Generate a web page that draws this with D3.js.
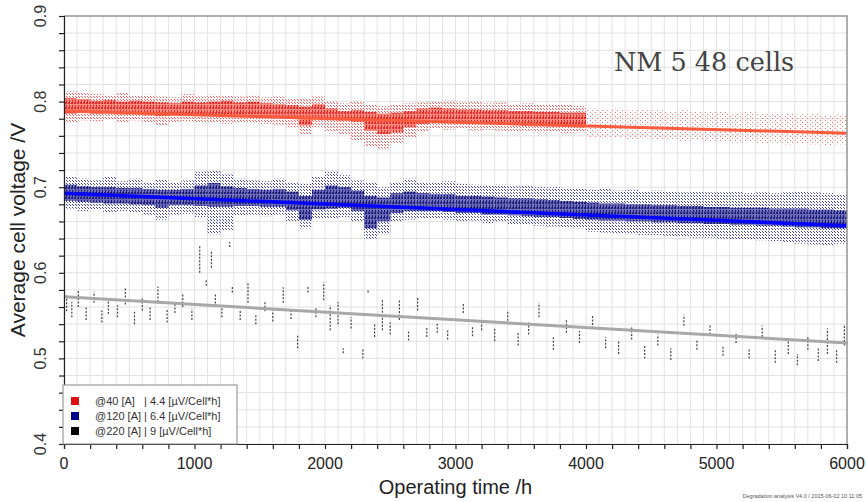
<!DOCTYPE html>
<html>
<head>
<meta charset="utf-8">
<script src="https://cdn.jsdelivr.net/npm/d3@7.9.0/dist/d3.min.js"></script>
<style>
  body { margin: 0; background: #fff; }
  svg { display: block; font-family: "Liberation Sans", Arial, sans-serif; }
</style>
</head>
<body>
<svg id="chart" width="866" height="502"></svg>
<script>
// operating time buckets of 100 h: [t, outerLo, outerHi, coreLo, coreHi] (V)
const redBands = [
  [0, .776, .812, .786, .804], [100, .778, .810, .787, .803], [200, .777, .809, .786, .801],
  [300, .779, .808, .787, .802], [400, .776, .810, .785, .800], [500, .778, .807, .786, .801],
  [600, .775, .808, .784, .800], [700, .772, .806, .783, .799], [800, .776, .805, .784, .798],
  [900, .777, .809, .785, .800], [1000, .775, .806, .783, .799], [1100, .776, .808, .784, .800],
  [1200, .774, .807, .783, .801], [1300, .776, .806, .784, .799], [1400, .775, .808, .783, .800],
  [1500, .774, .805, .782, .798], [1600, .773, .806, .782, .797], [1700, .770, .804, .780, .796],
  [1800, .762, .803, .772, .794], [1900, .770, .806, .779, .797], [2000, .765, .800, .779, .792],
  [2100, .762, .798, .778, .789], [2200, .755, .800, .776, .790], [2300, .748, .797, .766, .788],
  [2400, .745, .795, .762, .786], [2500, .752, .796, .764, .787], [2600, .758, .798, .770, .789],
  [2700, .765, .799, .774, .792], [2800, .768, .800, .776, .793], [2900, .767, .801, .775, .792],
  [3000, .768, .799, .775, .791], [3100, .766, .800, .774, .791], [3200, .767, .798, .774, .790],
  [3300, .766, .799, .773, .790], [3400, .765, .797, .773, .789], [3500, .766, .798, .772, .789],
  [3600, .764, .797, .772, .788], [3700, .765, .796, .771, .788], [3800, .763, .797, .771, .787],
  [3900, .764, .795, .770, .787], [4000, .758, .792, null, null], [4100, .757, .791, null, null],
  [4200, .758, .792, null, null], [4300, .756, .790, null, null], [4400, .757, .791, null, null],
  [4500, .755, .790, null, null], [4600, .756, .789, null, null], [4700, .754, .790, null, null],
  [4800, .755, .788, null, null], [4900, .753, .789, null, null], [5000, .754, .788, null, null],
  [5100, .752, .787, null, null], [5200, .753, .788, null, null], [5300, .751, .786, null, null],
  [5400, .752, .787, null, null], [5500, .750, .786, null, null], [5600, .751, .785, null, null],
  [5700, .750, .786, null, null], [5800, .749, .784, null, null], [5900, .750, .785, null, null]
];

const blueBands = [
  [0, .675, .712, .684, .703], [100, .672, .710, .683, .701], [200, .674, .708, .682, .700],
  [300, .670, .712, .681, .700], [400, .672, .707, .681, .699], [500, .670, .710, .680, .699],
  [600, .668, .706, .679, .698], [700, .662, .709, .676, .697], [800, .668, .705, .679, .697],
  [900, .669, .708, .679, .698], [1000, .665, .718, .678, .702], [1100, .645, .720, .677, .705],
  [1200, .650, .715, .677, .701], [1300, .667, .710, .678, .699], [1400, .668, .708, .678, .698],
  [1500, .666, .707, .677, .697], [1600, .668, .710, .677, .698], [1700, .660, .706, .673, .695],
  [1800, .652, .704, .662, .690], [1900, .664, .712, .674, .697], [2000, .663, .718, .675, .702],
  [2100, .665, .714, .676, .700], [2200, .660, .708, .672, .696], [2300, .640, .705, .652, .690],
  [2400, .645, .700, .660, .688], [2500, .660, .705, .670, .693], [2600, .662, .710, .672, .695],
  [2700, .663, .706, .672, .693], [2800, .664, .705, .672, .692], [2900, .662, .707, .671, .692],
  [3000, .660, .704, .670, .690], [3100, .661, .703, .670, .690], [3200, .658, .702, .668, .689],
  [3300, .660, .703, .668, .688], [3400, .657, .701, .667, .687], [3500, .656, .702, .666, .687],
  [3600, .655, .700, .665, .686], [3700, .654, .700, .665, .685], [3800, .653, .699, .664, .684],
  [3900, .652, .698, .663, .683], [4000, .648, .697, .662, .682], [4100, .647, .698, .661, .681],
  [4200, .646, .696, .661, .681], [4300, .645, .697, .660, .680], [4400, .644, .695, .660, .680],
  [4500, .644, .696, .659, .679], [4600, .643, .695, .659, .679], [4700, .642, .694, .658, .678],
  [4800, .641, .695, .658, .678], [4900, .641, .694, .657, .677], [5000, .640, .694, .657, .677],
  [5100, .639, .695, .656, .676], [5200, .639, .693, .656, .676], [5300, .638, .694, .655, .676],
  [5400, .637, .693, .655, .675], [5500, .636, .694, .654, .675], [5600, .634, .695, .653, .675],
  [5700, .633, .694, .653, .674], [5800, .632, .693, .652, .674], [5900, .634, .692, .652, .673]
];

// 220 A readings: scattered vertical strokes [t, lo, hi]
const blackStrokes = [
  [20, .555, .575], [60, .548, .566], [110, .560, .580], [170, .545, .560], [230, .565, .578],
  [290, .542, .556], [340, .552, .572], [410, .548, .562], [470, .563, .583], [540, .540, .555],
  [600, .556, .570], [660, .545, .560], [720, .566, .584], [790, .542, .558], [850, .553, .565],
  [910, .560, .576], [980, .545, .558], [1040, .600, .632], [1090, .585, .592], [1130, .606, .626],
  [1160, .560, .575], [1210, .548, .562], [1270, .630, .636], [1290, .577, .584], [1350, .545, .556],
  [1410, .565, .588], [1470, .540, .552], [1540, .555, .566], [1600, .543, .556], [1680, .565, .583],
  [1740, .546, .558], [1790, .512, .527], [1870, .577, .585], [1930, .548, .560], [1990, .568, .589],
  [2040, .533, .562], [2100, .540, .566], [2140, .506, .512], [2200, .535, .548], [2290, .500, .512],
  [2330, .577, .580], [2380, .525, .541], [2440, .533, .568], [2500, .528, .542], [2570, .545, .568],
  [2640, .521, .533], [2710, .556, .571], [2780, .525, .536], [2860, .530, .541], [2940, .522, .534],
  [3060, .553, .564], [3130, .526, .538], [3200, .533, .545], [3300, .520, .535], [3400, .540, .556],
  [3480, .515, .530], [3560, .528, .542], [3640, .548, .565], [3750, .510, .525], [3850, .530, .545],
  [3950, .518, .532], [4050, .535, .550], [4150, .512, .525], [4250, .505, .520], [4350, .522, .536],
  [4450, .500, .515], [4550, .515, .528], [4650, .498, .512], [4750, .538, .551], [4850, .510, .522],
  [4950, .528, .540], [5050, .503, .515], [5150, .518, .530], [5250, .500, .512], [5350, .525, .538],
  [5450, .495, .510], [5550, .505, .520], [5620, .492, .505], [5700, .510, .525], [5780, .497, .512],
  [5850, .505, .535], [5920, .495, .510], [5980, .515, .540]
];

// linear degradation fits: [t, V]
const redFit = [[0, .789], [6000, .763]];
const blueFit = [[0, .693], [6000, .655]];
const blackFit = [[0, .572], [6000, .518]];

const legendItems = [
  { color: '#e01010', label: '@40 [A]   | 4.4 [\u00b5V/Cell*h]' },
  { color: '#00008b', label: '@120 [A] | 6.4 [\u00b5V/Cell*h]' },
  { color: '#000000', label: '@220 [A] | 9 [\u00b5V/Cell*h]' }
];

const xTicks = d3.range(0, 6001, 200);
const xLabels = [0, 1000, 2000, 3000, 4000, 5000, 6000];
const yTicks = d3.range(0.4, 0.9001, 0.02);
const yLabels = [0.4, 0.5, 0.6, 0.7, 0.8, 0.9];

const svg = d3.select('#chart');
const m = { left: 64, right: 847, top: 16, bottom: 444 };

const x = d3.scaleLinear().domain([0, 6000]).range([m.left, m.right]);
const y = d3.scaleLinear().domain([0.4, 0.9]).range([m.bottom, m.top]);

// patterns for speckled clouds
const defs = svg.append('defs');
function dotPattern(id, color, w, h) {
  const p = defs.append('pattern').attr('id', id).attr('patternUnits', 'userSpaceOnUse')
    .attr('width', w).attr('height', h);
  p.append('rect').attr('width', 1).attr('height', 1).attr('fill', color);
  p.append('rect').attr('x', Math.floor(w / 2)).attr('y', Math.floor(h / 2))
    .attr('width', 1).attr('height', 1).attr('fill', color);
}
function stripePattern(id, color, bg) {
  const p = defs.append('pattern').attr('id', id).attr('patternUnits', 'userSpaceOnUse')
    .attr('width', 3).attr('height', 5);
  p.append('rect').attr('width', 3).attr('height', 5).attr('fill', bg);
  p.append('rect').attr('width', 1).attr('height', 4).attr('fill', color);
  p.append('rect').attr('x', 2).attr('y', 2).attr('width', 1).attr('height', 2).attr('fill', color);
}
dotPattern('redDots', '#ff3030', 3, 3);
dotPattern('redSparse', '#ff5050', 5, 4);
dotPattern('blueDots', '#1a1a90', 3, 3);
dotPattern('blueSparse', '#2a2a98', 3, 4);
stripePattern('redCore', '#dd1010', '#ff7a6a');
stripePattern('blueCore', '#000066', '#5858b0');

// grid
svg.append('g').selectAll('line').data(d3.range(0, 6001, 100)).join('line')
  .attr('x1', d => x(d)).attr('x2', d => x(d)).attr('y1', m.top).attr('y2', m.bottom)
  .attr('stroke', '#e2e2e2').attr('stroke-width', 1);
svg.append('g').selectAll('line').data(yTicks).join('line')
  .attr('x1', m.left).attr('x2', m.right).attr('y1', d => y(d)).attr('y2', d => y(d))
  .attr('stroke', '#e2e2e2').attr('stroke-width', 1);

// bands
function drawBands(bands, outerFill, coreFill, sparseFill) {
  const g = svg.append('g');
  g.selectAll('rect.outer').data(bands).join('rect')
    .attr('x', d => x(d[0])).attr('width', d => x(d[0] + 100) - x(d[0]))
    .attr('y', d => y(d[2])).attr('height', d => y(d[1]) - y(d[2]))
    .attr('fill', d => d[3] === null ? sparseFill : outerFill)
    .attr('opacity', 0.8);
  g.selectAll('rect.core').data(bands.filter(d => d[3] !== null)).join('rect')
    .attr('x', d => x(d[0])).attr('width', d => x(d[0] + 100) - x(d[0]))
    .attr('y', d => y(d[4])).attr('height', d => y(d[3]) - y(d[4]))
    .attr('fill', coreFill).attr('opacity', 0.85);
}
drawBands(redBands, 'url(#redDots)', 'url(#redCore)', 'url(#redSparse)');
drawBands(blueBands, 'url(#blueDots)', 'url(#blueCore)', 'url(#blueSparse)');

svg.append('g').selectAll('line').data(blackStrokes).join('line')
  .attr('x1', d => x(d[0])).attr('x2', d => x(d[0]))
  .attr('y1', d => y(d[1])).attr('y2', d => y(d[2]))
  .attr('stroke', '#444').attr('stroke-width', 1.2).attr('stroke-dasharray', '2,1.5');

// fit lines
const line = d3.line().x(d => x(d[0])).y(d => y(d[1]));
svg.append('path').attr('d', line(redFit)).attr('stroke', '#ff5a3c').attr('stroke-width', 3).attr('fill', 'none');
svg.append('path').attr('d', line(blueFit)).attr('stroke', '#0000ff').attr('stroke-width', 3.5).attr('fill', 'none');
svg.append('path').attr('d', line(blackFit)).attr('stroke', '#a8a8a8').attr('stroke-width', 3).attr('fill', 'none');

// frame
svg.append('path').attr('d', `M${m.left},${m.top}H${m.right}V${m.bottom}`)
  .attr('stroke', '#999').attr('fill', 'none').attr('stroke-width', 1.5);

// axes
const xAxis = svg.append('g').attr('transform', `translate(0,${m.bottom})`)
  .call(d3.axisBottom(x).tickValues(xTicks).tickSize(5).tickFormat(''));
const yAxis = svg.append('g').attr('transform', `translate(${m.left},0)`)
  .call(d3.axisLeft(y).tickValues(yTicks).tickSize(5).tickFormat(''));
[xAxis, yAxis].forEach(a => {
  a.selectAll('path, line').attr('stroke', '#222').attr('stroke-width', 1.2);
});

svg.append('g').selectAll('text').data(xLabels).join('text')
  .attr('x', d => x(d)).attr('y', 469).attr('text-anchor', 'middle')
  .attr('font-size', 16).attr('fill', '#222').text(d => d);
svg.append('g').selectAll('text').data(yLabels).join('text')
  .attr('transform', d => `translate(46,${y(d)}) rotate(-90)`)
  .attr('text-anchor', 'middle').attr('font-size', 16).attr('fill', '#333')
  .text(d => d.toFixed(1));

svg.append('text').attr('x', (m.left + m.right) / 2).attr('y', 494).attr('text-anchor', 'middle')
  .attr('font-size', 20).attr('fill', '#222').text('Operating time /h');
svg.append('text').attr('transform', `translate(25,${(m.top + m.bottom) / 2}) rotate(-90)`)
  .attr('text-anchor', 'middle').attr('font-size', 21).attr('fill', '#222')
  .text('Average cell voltage /V');

// legend
const lg = svg.append('g');
lg.append('rect').attr('x', 63).attr('y', 385).attr('width', 174).attr('height', 59)
  .attr('fill', '#fff').attr('stroke', '#888');
legendItems.forEach((d, i) => {
  const cy = 401 + i * 15;
  lg.append('rect').attr('x', 71).attr('y', cy - 4).attr('width', 8).attr('height', 8).attr('fill', d.color);
  lg.append('text').attr('x', 95).attr('y', cy + 4).attr('font-size', 11).attr('fill', '#333')
    .attr('xml:space', 'preserve').style('white-space', 'pre').text(d.label);
});

svg.append('text').attr('x', 614).attr('y', 71).attr('font-family', '"DejaVu Serif", serif')
  .attr('font-size', 25.5).attr('fill', '#444').text('NM 5 48 cells');

svg.append('text').attr('x', 862).attr('y', 498).attr('text-anchor', 'end')
  .attr('font-size', 5.5).attr('fill', '#555')
  .text('Degradation analysis V4.0 / 2015-06-02 10:11:05');
</script>
</body>
</html>
